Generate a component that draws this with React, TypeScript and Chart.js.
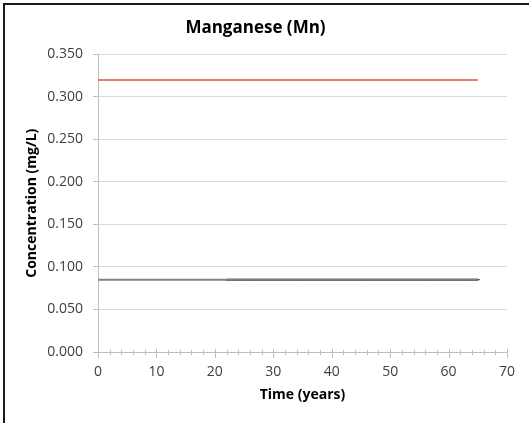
import React, { useEffect, useRef } from "react";
import { Chart, registerables } from "chart.js";

Chart.register(...registerables);

const TITLE = "Manganese (Mn)";
const X_TITLE = "Time (years)";
const Y_TITLE = "Concentration (mg/L)";

// Red guideline series
const redX = [0, 65];
const redY = [0.32, 0.32];

// Grey baseline series
const greyX = [0, 65];
const greyY = [0.085, 0.085];

// Black dense series (marker-like)
const blackX = [22, 23, 24, 25, 26, 27, 28, 29, 30, 31, 32, 33, 34, 35, 36, 37, 38, 39, 40, 41, 42, 43, 44, 45, 46, 47, 48, 49, 50, 51, 52, 53, 54, 55, 56, 57, 58, 59, 60, 61, 62, 63, 64, 65];
const blackY = [0.085, 0.085, 0.085, 0.085, 0.085, 0.085, 0.085, 0.085, 0.085, 0.085, 0.085, 0.085, 0.085, 0.085, 0.085, 0.085, 0.085, 0.085, 0.085, 0.085, 0.085, 0.085, 0.085, 0.085, 0.085, 0.085, 0.085, 0.085, 0.085, 0.085, 0.085, 0.085, 0.085, 0.085, 0.085, 0.085, 0.085, 0.085, 0.085, 0.085, 0.085, 0.085, 0.085, 0.085];

const X_MIN = 0;
const X_MAX = 70;
const X_MAJOR = 10;
const X_MINOR = 2;
const Y_MIN = 0;
const Y_MAX = 0.35;
const Y_STEP = 0.05;

const FONT = "'Open Sans', 'Noto Sans', sans-serif";

const toPts = (xs: number[], ys: number[]) => xs.map((x, i) => ({ x, y: ys[i] }));

const frameAndTicks = {
  id: "frameAndTicks",
  afterDraw(chart: any) {
    const ctx = chart.ctx;
    const xs = chart.scales.x;
    const ys = chart.scales.y;
    const axisY = ys.getPixelForValue(Y_MIN);
    ctx.save();
    ctx.strokeStyle = "#bfbfbf";
    ctx.lineWidth = 1;
    for (let v = X_MIN; v <= X_MAX; v += X_MINOR) {
      const px = Math.round(xs.getPixelForValue(v)) + 0.5;
      const major = v % X_MAJOR === 0;
      ctx.beginPath();
      ctx.moveTo(px, axisY - (major ? 3 : 2));
      ctx.lineTo(px, axisY + (major ? 6 : 3));
      ctx.stroke();
    }
    // outer frame: top and left edges
    ctx.strokeStyle = "#1a1a1a";
    ctx.lineWidth = 2;
    ctx.beginPath();
    ctx.moveTo(4, chart.height);
    ctx.lineTo(4, 4);
    ctx.lineTo(chart.width, 4);
    ctx.stroke();
    ctx.restore();
  },
};

export default function App() {
  const ref = useRef<HTMLCanvasElement | null>(null);
  useEffect(() => {
    document.body.style.margin = "0";
    const canvas = ref.current!;
    const chart = new Chart(canvas, {
      type: "scatter",
      data: {
        datasets: [
          {
            data: toPts(greyX, greyY),
            showLine: true,
            borderColor: "#808080",
            borderWidth: 2,
            pointRadius: 0,
          },
          {
            data: toPts(blackX, blackY),
            showLine: true,
            borderColor: "#111111",
            borderWidth: 2,
            pointRadius: 2,
            pointStyle: "line",
            pointBorderColor: "#111111",
            pointBorderWidth: 1,
          },
          {
            data: toPts(redX, redY),
            showLine: true,
            borderColor: "#e0504a",
            borderWidth: 1.5,
            pointRadius: 0,
          },
        ],
      },
      options: {
        responsive: false,
        animation: false,
        layout: { padding: { left: 4, right: 22, top: 4, bottom: 0 } },
        plugins: {
          legend: { display: false },
          tooltip: { enabled: false },
          title: {
            display: true,
            text: TITLE,
            color: "#000000",
            font: { family: FONT, size: 17, weight: "bold" },
            padding: { top: 14, bottom: 16 },
          },
        },
        scales: {
          x: {
            type: "linear",
            min: X_MIN,
            max: X_MAX,
            afterFit: (s: any) => {
              s.height = 71;
            },
            grid: { display: false, drawTicks: false },
            border: { display: true, color: "#bfbfbf", width: 1 },
            ticks: {
              stepSize: X_MAJOR,
              padding: 12,
              color: "#404040",
              font: { family: FONT, size: 14 },
              maxRotation: 0,
            },
            title: {
              display: true,
              text: X_TITLE,
              color: "#000000",
              font: { family: FONT, size: 14, weight: "bold" },
              padding: { top: 0, bottom: 20 },
            },
          },
          y: {
            type: "linear",
            min: Y_MIN,
            max: Y_MAX,
            afterFit: (s: any) => {
              s.width = 94;
            },
            grid: {
              color: "#d9d9d9",
              tickLength: 5,
              tickColor: "#bfbfbf",
            },
            border: { display: true, color: "#bfbfbf", width: 1 },
            ticks: {
              stepSize: Y_STEP,
              padding: 10,
              color: "#404040",
              font: { family: FONT, size: 14 },
              callback: (v: any) => Number(v).toFixed(3),
            },
            title: {
              display: true,
              text: Y_TITLE,
              color: "#000000",
              font: { family: FONT, size: 14, weight: "bold" },
              padding: { top: 20, bottom: 0 },
            },
          },
        },
      },
      plugins: [frameAndTicks],
    } as any);
    return () => chart.destroy();
  }, []);
  return (
    <div style={{ width: 529, height: 423, background: "#ffffff" }}>
      <canvas ref={ref} width={529} height={423} style={{ display: "block" }} />
    </div>
  );
}
